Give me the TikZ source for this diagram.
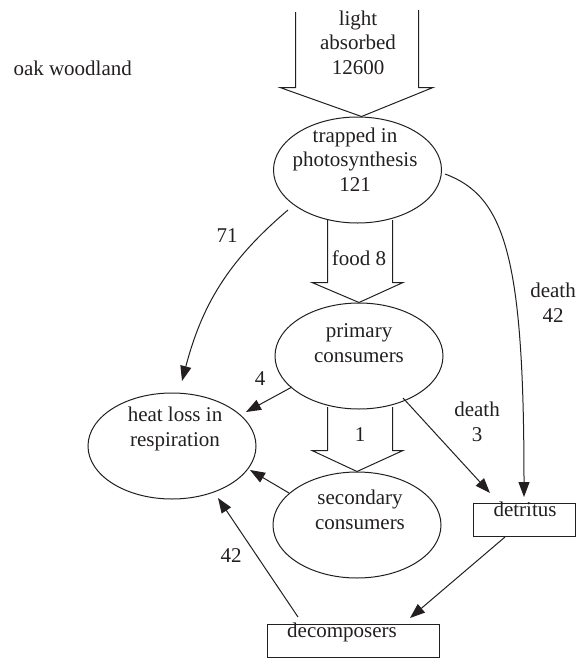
\documentclass[tikz,border=0pt]{standalone}
\usepackage{fontspec}
\setmainfont{Liberation Serif}
\usetikzlibrary{shapes.geometric,arrows.meta,calc}
\definecolor{ink}{HTML}{231F20}
\newcommand\dfont{\fontsize{21}{24.5}\selectfont}
\begin{document}
\begin{tikzpicture}[x=1pt,y=-1pt,line width=1pt,color=ink,
  ell/.style={draw,ellipse,minimum width=168pt,minimum height=106pt,inner sep=0pt},
  box/.style={draw,rectangle,inner sep=0pt,minimum height=33pt},
  txt/.style={align=center,inner sep=0pt,anchor=base,font=\dfont},
  arr/.style={-{Triangle[length=15pt,width=11pt]}}]
\useasboundingbox (0,0) rectangle (582,659);

% shapes
\node[ell] (trap) at (357.5,170) {};
\node[ell] (prim) at (359,356) {};
\node[ell] (sec) at (357,525) {};
\node[ell] (heat) at (172,446) {};
\node[box,minimum width=102pt] (det) at (524,519.5) {};
\node[box,minimum width=172pt] (dec) at (353,640.5) {};

% texts (multi-line nodes are placed by the baseline of their last line)
\node[txt,anchor=base west] (oakT) at (13,75) {oak woodland};
\node[txt] (lightT) at (358,74) {light\\absorbed\\12600};
\node[txt] (trapT) at (355,191) {trapped in\\photosynthesis\\121};
\node[txt] (foodT) at (359,265) {food 8};
\node[txt] (primT) at (359,362) {primary\\consumers};
\node[txt] (oneT) at (360,441) {1};
\node[txt] (heatT) at (175,446) {heat loss in\\respiration};
\node[txt] (fourT) at (260,385) {4};
\node[txt] (s71) at (227,242) {71};
\node[txt] (d42) at (553,322) {death\\42};
\node[txt] (d3) at (477,441) {death\\3};
\node[txt] (detT) at (525,516) {detritus};
\node[txt] (secT) at (360,529) {secondary\\consumers};
\node[txt] (decT) at (342,637) {decomposers};
\node[txt] (l42) at (231,562) {42};

% block arrows
\draw (295.5,12) -- (295.5,87.5) -- (280,87.5) -- ($(trap.north)+(4,0)$) -- (433,87.5) -- (418.5,87.5) -- (418.5,10);
\draw (327.5,220) -- (327.5,282.5) -- (312,282.5) -- (prim.north) -- (403,282.5) -- (392.5,282.5) -- (392.5,220);
\draw (327.5,407) -- (327.5,450.5) -- (312,450.5) -- (sec.north) -- (403,450.5) -- (392.5,450.5) -- (392.5,407);

% connectors
\draw[arr] ($(trap.center)+(-69.5,40)$) .. controls +(-60,51) and +(20,-76) .. ($(heat.center)+(10,-65)$);
\draw[arr] ($(prim.center)+(-67,31)$) -- ($(heat.center)+(74,-34)$);
\draw[arr] ($(sec.center)+(-68,-32)$) -- ($(heat.center)+(78,24)$);
\draw[arr] ($(dec.center)+(-55,-23.5)$) -- ($(heat.center)+(46,52)$);
\draw[arr] ($(det.center)+(-19,17.5)$) -- ($(dec.center)+(57,-22.5)$);
\draw[arr] ($(prim.center)+(44,42)$) -- ($(det.center)+(-34,-26.5)$);
\draw[arr] ($(trap.center)+(87.5,4)$) .. controls +(60,22) and +(0,-240) .. ($(det.center)+(0,-22.5)$);
\end{tikzpicture}
\end{document}
